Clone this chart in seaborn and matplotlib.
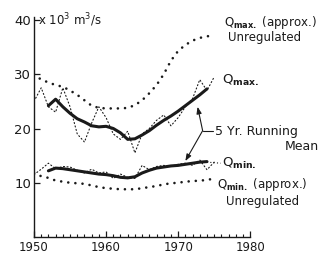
import numpy as np
import pandas as pd
import matplotlib.pyplot as plt
import seaborn as sns

# annual values (x10^3 m3/s)
years = list(range(1950, 1976))
qmax = [25.0, 27.5, 24.0, 23.0, 27.5, 24.0, 19.0, 17.5, 21.0, 24.0, 22.0, 19.0, 18.0,
        19.5, 15.5, 19.0, 20.0, 21.5, 22.5, 20.5, 22.0, 24.0, 25.5, 29.0, 27.0, 29.5]
qmin = [11.5, 12.5, 13.6, 12.6, 13.0, 12.9, 12.3, 11.8, 12.5, 11.8, 12.0, 10.8, 11.6,
        11.0, 10.8, 13.2, 12.4, 13.0, 13.2, 13.0, 13.4, 13.6, 13.2, 14.2, 12.4, 13.8]
qmax_unreg = [30.0, 29.0, 28.5, 28.0, 27.7, 27.0, 26.2, 25.2, 24.2, 23.8, 23.7, 23.7, 23.7,
              23.8, 24.3, 25.2, 26.5, 28.0, 30.0, 32.5, 34.3, 35.4, 36.2, 36.7, 37.0, 37.1]
qmin_unreg = [11.8, 11.2, 10.9, 10.4, 10.2, 10.0, 9.9, 9.8, 9.5, 9.2, 9.0, 8.9, 8.8,
              8.8, 8.8, 9.0, 9.2, 9.4, 9.7, 9.9, 10.0, 10.2, 10.3, 10.4, 10.5, 10.8]

mean_years = list(range(1952, 1975))
qmax_mean = [24.2, 25.4, 24.0, 22.8, 21.8, 21.2, 20.5, 20.3, 20.4, 20.0, 19.2, 18.0,
             18.1, 18.8, 19.6, 20.6, 21.5, 22.3, 23.2, 24.2, 25.2, 26.2, 27.3]
qmin_mean = [12.2, 12.7, 12.6, 12.4, 12.2, 12.0, 11.8, 11.6, 11.5, 11.3, 11.0, 10.9,
             11.1, 11.8, 12.3, 12.7, 12.9, 13.1, 13.2, 13.4, 13.6, 13.8, 13.9]

annual = pd.DataFrame({'year': years, 'qmax': qmax, 'qmin': qmin,
                       'qmax_unreg': qmax_unreg, 'qmin_unreg': qmin_unreg})
means = pd.DataFrame({'year': mean_years, 'qmax_mean': qmax_mean, 'qmin_mean': qmin_mean})

sns.set_style('ticks')
plt.rcParams['font.family'] = ['DejaVu Sans']
plt.rcParams['mathtext.fontset'] = 'dejavusans'

fig = plt.figure(figsize=(3.23, 2.56), dpi=100)
ax = fig.add_axes([34 / 323, 19 / 256, 289 / 323, 217 / 256])

ink = '#1a1a1a'
big_dots = dict(color=ink, lw=1.9, linestyle=(0, (0.01, 2.7)), dash_capstyle='round')
fine_dots = dict(color=ink, lw=0.8, linestyle=(0, (1, 2.2)), dash_capstyle='round')

sns.lineplot(data=annual, x='year', y='qmax_unreg', ax=ax, **big_dots)
sns.lineplot(data=annual, x='year', y='qmin_unreg', ax=ax, **big_dots)
sns.lineplot(data=annual, x='year', y='qmax', ax=ax, **fine_dots)
sns.lineplot(data=annual, x='year', y='qmin', ax=ax, **fine_dots)
sns.lineplot(data=means, x='year', y='qmax_mean', ax=ax, color=ink, lw=2.2)
sns.lineplot(data=means, x='year', y='qmin_mean', ax=ax, color=ink, lw=2.2)

ax.set_xlim(1950, 1990.1)
ax.set_ylim(0, 40)
ax.set_xlabel('')
ax.set_ylabel('')
sns.despine(ax=ax)
ax.spines['bottom'].set_bounds(1950, 1980)
ax.spines['left'].set_bounds(0, 40.5)
for s in ['bottom', 'left']:
    ax.spines[s].set_color(ink)
    ax.spines[s].set_linewidth(1.0)

ax.set_xticks([1950, 1960, 1970, 1980])
ax.set_xticks(range(1950, 1981), minor=True)
ax.set_yticks([10, 20, 30, 40])
ax.set_yticklabels(['10', '20', '30', '40'])
ax.tick_params(axis='x', which='major', direction='in', length=4, width=0.9,
               labelsize=8.5, pad=3, colors=ink)
ax.tick_params(axis='x', which='minor', direction='in', length=2.5, width=0.8, colors=ink)
ax.tick_params(axis='y', which='major', direction='in', length=4, width=0.9,
               labelsize=9.5, pad=2, colors=ink)

ax.text(1950.6, 40, r'x 10$^3$ m$^3$/s', fontsize=8.5, color=ink, va='center', ha='left')

lab = dict(color=ink, ha='left', va='center', clip_on=False)
ax.text(1976.4, 39.6, r'Q$_{\bf max.}$ (approx.)', fontsize=8.5, **lab)
ax.text(1976.9, 36.8, 'Unregulated', fontsize=8.5, **lab)
ax.text(1976.1, 28.9, r'Q$_{\bf max.}$', fontsize=9.5, **lab)
ax.text(1975.1, 19.5, '5 Yr. Running', fontsize=9, **lab)
ax.text(1984.8, 16.6, 'Mean', fontsize=9, **lab)
ax.text(1976.1, 13.5, r'Q$_{\bf min.}$', fontsize=9.5, **lab)
ax.text(1975.4, 9.6, r'Q$_{\bf min.}$ (approx.)', fontsize=8.5, **lab)
ax.text(1976.6, 6.6, 'Unregulated', fontsize=8.5, **lab)

# leader lines
ax.plot([1973.4, 1974.9], [19.6, 19.6], color=ink, lw=0.8)
ax.plot([1974.0, 1975.9], [13.8, 13.6], color=ink, lw=0.8, linestyle=(0, (1, 2)))
arrow = dict(arrowstyle='-|>,head_length=0.4,head_width=0.15', color=ink, lw=0.8,
             shrinkA=0, shrinkB=0)
ax.annotate('', xy=(1972.7, 24.0), xytext=(1973.4, 19.6), arrowprops=arrow)
ax.annotate('', xy=(1971.0, 14.0), xytext=(1973.4, 19.6), arrowprops=arrow)

fig.savefig('out.png', dpi=100)
